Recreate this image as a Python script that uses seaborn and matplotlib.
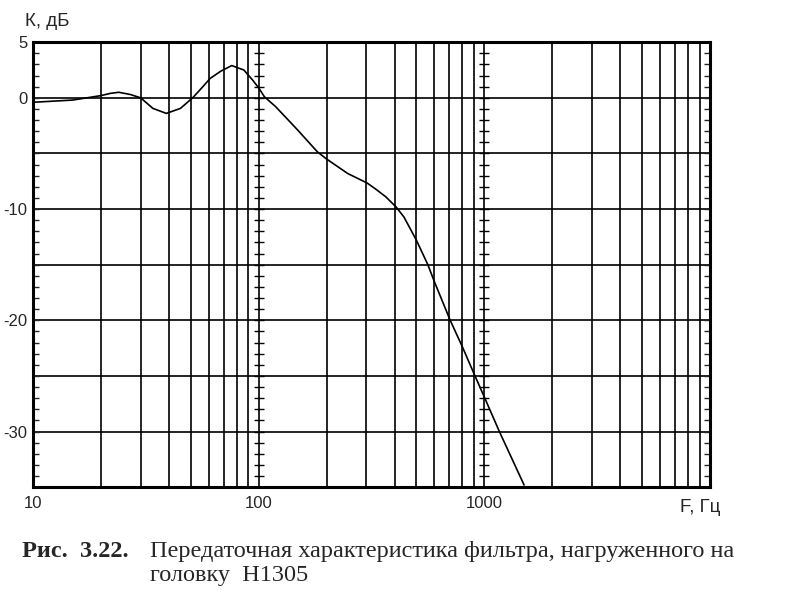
import numpy as np
import pandas as pd
import seaborn as sns
import matplotlib.pyplot as plt
from matplotlib.ticker import MultipleLocator, LogLocator, NullFormatter

# frequency response of the filter loaded on the H1305 head
freq = [10, 15, 20, 22, 24, 27, 30, 34, 39, 45, 51, 56, 61, 68, 76, 86, 94,
        100, 106, 119, 149, 182, 200, 248, 302, 330, 366, 406, 440, 500, 562,
        600, 706, 800, 900, 1000, 1166, 1500]
gain = [-0.4, -0.2, 0.2, 0.4, 0.5, 0.3, 0.0, -0.95, -1.4, -0.95, 0.0, 0.9,
        1.75, 2.4, 2.9, 2.5, 1.6, 0.9, 0.1, -0.8, -2.9, -4.85, -5.5, -6.8,
        -7.65, -8.2, -8.9, -9.8, -10.7, -12.8, -15.0, -16.5, -20.0, -22.4,
        -24.8, -26.9, -30.0, -34.8]

x_major = [10, 100, 1000]
x_labels = ['10', '100', '1000']
y_grid = [-35, -30, -25, -20, -15, -10, -5, 0, 5]
y_labels = ['', '-30', '', '-20', '', '-10', '', '0', '5']

sns.set_style('white')
plt.rcParams['font.family'] = ['Liberation Sans', 'DejaVu Sans']

df = pd.DataFrame({'F': freq, 'K': gain})

fig, ax = plt.subplots(figsize=(7.85, 6.03), dpi=100)
fig.subplots_adjust(left=0.042, right=0.9045, top=0.930, bottom=0.192)

sns.lineplot(data=df, x='F', y='K', ax=ax, color='black', lw=1.2)

ax.set_xscale('log')
ax.set_xlim(10, 10000)
ax.set_ylim(-35, 5)

ax.set_xticks(x_major)
ax.set_xticklabels(x_labels)
ax.xaxis.set_minor_locator(LogLocator(base=10, subs=range(2, 10)))
ax.xaxis.set_minor_formatter(NullFormatter())
ax.tick_params(axis='x', which='both', length=0, pad=6, labelsize=12)

ax.set_yticks(y_grid)
ax.set_yticklabels(y_labels)
ax.yaxis.set_minor_locator(MultipleLocator(1))
ax.tick_params(axis='y', which='both', direction='in', length=4, width=1,
               left=True, right=True, pad=4, labelsize=12)

ax.grid(True, which='both', axis='x', color='black', lw=1.2)
ax.grid(True, which='major', axis='y', color='black', lw=1.2)

# small cross ticks along the decade lines
yy = np.arange(-34, 5, 1)
for xd in [100, 1000]:
    ax.plot(np.full(len(yy), xd), yy, ls='none', marker='_', ms=7, mew=1,
            color='black')

for s in ax.spines.values():
    s.set_color('black')
    s.set_linewidth(2.2)

ax.set_xlabel('')
ax.set_ylabel('')

fig.text(25 / 785, 1 - 21 / 603, 'К, дБ', fontsize=13.5, ha='left', va='center')
fig.text(700 / 785, 1 - 508 / 603, 'F, Гц', fontsize=13.5, ha='center',
         va='center')

fig.text(22 / 785, 1 - 557 / 603, 'Рис.  3.22.', fontsize=17.5,
         family='Liberation Serif', weight='bold', ha='left', va='baseline')
fig.text(150 / 785, 1 - 557 / 603,
         'Передаточная характеристика фильтра, нагруженного на',
         fontsize=17.5, family='Liberation Serif', ha='left', va='baseline')
fig.text(150 / 785, 1 - 581 / 603, 'головку  Н1305',
         fontsize=17.5, family='Liberation Serif', ha='left', va='baseline')

plt.savefig('out.png', dpi=100)
